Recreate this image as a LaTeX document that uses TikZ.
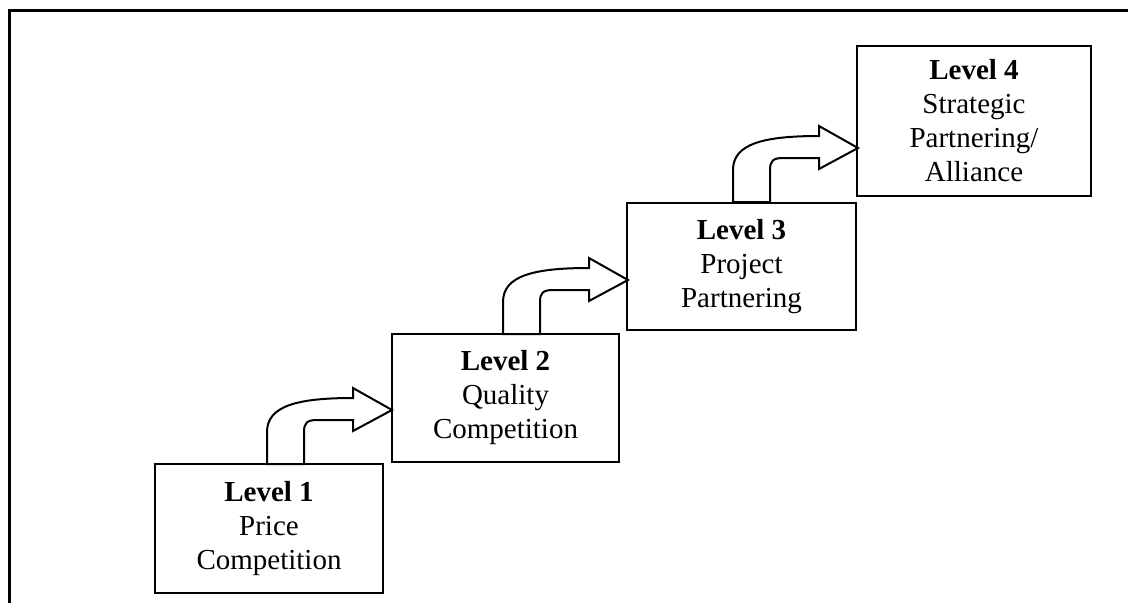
\documentclass[tikz,border=0pt]{standalone}
\usepackage{fontspec}
\setmainfont{Liberation Serif}
\usetikzlibrary{calc}
\begin{document}
\begin{tikzpicture}[x=1pt,y=-1pt,
  levelbox/.style={draw, line width=1.1pt, align=center, inner sep=0pt, outer sep=0pt,
    font=\fontsize{29}{34}\selectfont},
  % bent block arrow climbing from one level to the next; origin = left foot of the stem
  stepper/.pic={
    \draw[line width=2pt, fill=white]
      (0,0) -- (0,-32) .. controls (0,-58) and (30,-66) .. (86,-66)
      -- (86,-76) -- (125,-54) -- (86,-33) -- (86,-44) -- (50,-44)
      .. controls (40,-44) and (37,-41) .. (37,-32) -- (37,0) -- cycle;
  }
]
\useasboundingbox (0,0) rectangle (1128,603);

% outer frame (top and left edges)
\draw[line width=3.2pt] (9.3,603) -- (9.3,10.5) -- (1128,10.5);

% the four levels
\node[levelbox, minimum width=228pt, minimum height=129pt] (l1) at (269,528.5)
  {\textbf{Level 1}\\Price\\Competition};
\node[levelbox, minimum width=227pt, minimum height=128pt] (l2) at (505.5,398)
  {\textbf{Level 2}\\Quality\\Competition};
\node[levelbox, minimum width=229pt, minimum height=127pt] (l3) at (741.5,266.5)
  {\textbf{Level 3}\\Project\\Partnering};
\node[levelbox, minimum width=234pt, minimum height=150pt] (l4) at (974,121)
  {\textbf{Level 4}\\Strategic\\Partnering/\\Alliance};

% arrows from each level to the next
\coordinate (a1) at ($(l1.north)+(-2,0)$);
\coordinate (a2) at ($(l2.north)+(-2.5,0)$);
\coordinate (a3) at ($(l3.north)+(-8.5,-1)$);
\pic at (a1) {stepper};
\pic at (a2) {stepper};
\pic at (a3) {stepper};
\end{tikzpicture}
\end{document}
